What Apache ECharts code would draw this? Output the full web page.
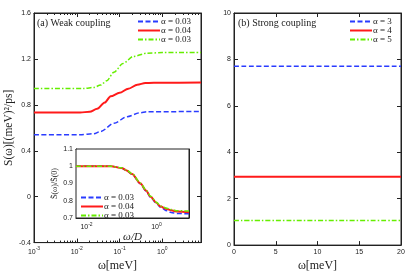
<!DOCTYPE html>
<html><head><meta charset="utf-8">
<script src="https://cdn.jsdelivr.net/npm/echarts@6/dist/echarts.min.js"></script>
<style>html,body{margin:0;padding:0;background:#fff}#c{width:415px;height:277px}</style>
</head><body><div id="c"></div>
<script>
// ---- data ----
const weakLabels = ['α = 0.03', 'α = 0.04', 'α = 0.03'];
const strongLabels = ['α = 3', 'α = 4', 'α = 5'];
const weakBlue = [[0.001,0.539],[0.012,0.539],[0.025,0.548],[0.036,0.568],[0.074,0.639],[0.15,0.697],[0.3,0.731],[0.44,0.74],[8,0.742]];
const weakRed = [[0.001,0.733],[0.012,0.733],[0.02,0.74],[0.03,0.765],[0.045,0.82],[0.062,0.875],[0.1,0.905],[0.16,0.94],[0.26,0.975],[0.4,0.99],[1,0.993],[8,0.994]];
const weakGreen = [[0.001,0.943],[0.015,0.943],[0.025,0.952],[0.036,0.972],[0.05,1.01],[0.074,1.084],[0.12,1.16],[0.21,1.222],[0.44,1.25],[1,1.255],[8,1.256]];
const insetBlue = [[0.005,1.0],[0.05,1.0],[0.1,0.99],[0.14,0.975],[0.2,0.953],[0.35,0.898],[0.5,0.857],[0.68,0.82],[1.0,0.785],[1.3,0.762],[2,0.742],[2.6,0.732],[4,0.726],[8.5,0.724]];
const insetRed = [[0.005,1.0],[0.05,1.0],[0.1,0.99],[0.14,0.976],[0.2,0.955],[0.35,0.9],[0.5,0.86],[0.68,0.823],[1.0,0.788],[1.3,0.766],[2,0.752],[2.6,0.745],[4,0.737],[8.5,0.733]];
const insetGreen = [[0.005,1.0],[0.05,1.0],[0.1,0.991],[0.14,0.978],[0.2,0.957],[0.35,0.902],[0.5,0.862],[0.68,0.826],[1.0,0.791],[1.3,0.77],[2,0.756],[2.6,0.749],[4,0.742],[8.5,0.74]];
const strongX = [0, 20];
const strongValues = [7.71, 2.94, 1.06];
const weakYTicks = {min: -0.4, max: 1.6, interval: 0.4};
const strongYTicks = {min: 0, max: 10, interval: 2};
const strongXTicks = {min: 0, max: 20, interval: 5};
const insetYTicks = {min: 0.7, max: 1.1, interval: 0.1};

const BLUE = '#2a3cff', RED = '#ff1a1a', GREEN = '#66ee00';
const SANS = 'Liberation Sans', SERIF = 'Liberation Serif';
const AX = '#222';

const names = {w1: weakLabels[0], w2: weakLabels[1], w3: weakLabels[2],
  i1: weakLabels[0], i2: weakLabels[1], i3: weakLabels[2],
  s1: strongLabels[0], s2: strongLabels[1], s3: strongLabels[2]};

function logFmt(onlyEven) {
  return function (v) {
    const l = Math.log10(v), e = Math.round(l);
    if (Math.abs(l - e) > 1e-6) return '';
    if (onlyEven && e % 2 !== 0) return '';
    return '{b|10}{s|' + e + '}';
  };
}
const logRich = {b: {fontSize: 7, fontFamily: SANS, color: '#222'}, s: {fontSize: 5, fontFamily: SANS, color: '#222', padding: [0, 0, 5, 0]}};

function baseAxis(extra) {
  return Object.assign({
    show: true,
    axisLine: {show: true, onZero: false, lineStyle: {color: AX, width: 1}},
    axisTick: {show: true, inside: true, length: 4, lineStyle: {color: AX}},
    minorTick: {show: false},
    splitLine: {show: false},
    axisLabel: {fontSize: 7, fontFamily: SANS, color: '#222', margin: 3},
    nameTextStyle: {fontFamily: SERIF, fontSize: 12, color: '#222'}
  }, extra);
}
function mirror(ax, pos) {
  const m = Object.assign({}, ax);
  m.position = pos;
  m.axisLabel = {show: false};
  m.name = '';
  return m;
}

const lx = baseAxis({type: 'log', gridIndex: 0, min: 0.001, max: 8, position: 'bottom',
  axisLabel: {fontSize: 7, margin: 4, formatter: logFmt(false), rich: logRich},
  minorTick: {show: true, splitNumber: 9, length: 2, lineStyle: {color: AX}},
  name: 'ω[meV]', nameLocation: 'middle', nameGap: 14});
const ly = baseAxis({type: 'value', gridIndex: 0, min: weakYTicks.min, max: weakYTicks.max, interval: weakYTicks.interval, position: 'left',
  name: 'S(ω)[(meV)²/ps]', nameLocation: 'middle', nameGap: 19, nameTextStyle: {fontFamily: SERIF, fontSize: 11.5, color: '#222'}});
const rx = baseAxis({type: 'value', gridIndex: 1, min: strongXTicks.min, max: strongXTicks.max, interval: strongXTicks.interval, position: 'bottom',
  name: 'ω[meV]', nameLocation: 'middle', nameGap: 14});
const ry = baseAxis({type: 'value', gridIndex: 1, min: strongYTicks.min, max: strongYTicks.max, interval: strongYTicks.interval, position: 'left'});
const ix = baseAxis({type: 'log', gridIndex: 2, min: 0.005, max: 8.5, position: 'bottom',
  axisLabel: {fontSize: 7, margin: 4, formatter: logFmt(true), rich: logRich},
  axisTick: {show: true, inside: true, length: 3, lineStyle: {color: AX}},
  name: 'ω/D', nameLocation: 'middle', nameGap: 9, nameTextStyle: {fontFamily: SERIF, fontSize: 11, fontStyle: 'italic', color: '#222'}});
const iy = baseAxis({type: 'value', gridIndex: 2, min: insetYTicks.min, max: insetYTicks.max, interval: insetYTicks.interval, position: 'left',
  axisTick: {show: true, inside: true, length: 3, lineStyle: {color: AX}},
  name: 'S\u0303(ω)/S\u0303(0)', nameLocation: 'middle', nameGap: 13, nameTextStyle: {fontFamily: SERIF, fontSize: 8, color: '#222'}});

const xAxes = [lx, mirror(lx, 'top'), rx, mirror(rx, 'top'), ix, mirror(ix, 'top')];
const yAxes = [ly, mirror(ly, 'right'), ry, mirror(ry, 'right'), iy, mirror(iy, 'right')];

function line(name, data, xi, yi, color, type, width, z) {
  return {name, type: 'line', data, xAxisIndex: xi, yAxisIndex: yi, symbol: 'none', showSymbol: false,
    smooth: 0.3, smoothMonotone: 'x', z: z || 2, lineStyle: {color, type, width}, itemStyle: {color}};
}
const DASH = [5, 2.5], DASHDOT = [5, 2, 1.5, 2];
// the red series of each panel is bound to the mirror (top/right) axes, which share the same scale
const series = [
  line('w1', weakBlue, 0, 0, BLUE, DASH, 1.5),
  line('w2', weakRed, 1, 1, RED, 'solid', 2),
  line('w3', weakGreen, 0, 0, GREEN, DASHDOT, 1.5),
  line('s1', strongX.map(x => [x, strongValues[0]]), 2, 2, BLUE, DASH, 1.5),
  line('s2', strongX.map(x => [x, strongValues[1]]), 3, 3, RED, 'solid', 2),
  line('s3', strongX.map(x => [x, strongValues[2]]), 2, 2, GREEN, DASHDOT, 1.5),
  line('i1', insetBlue, 4, 4, BLUE, DASH, 1.5, 10),
  line('i2', insetRed, 5, 5, RED, 'solid', 2, 10),
  line('i3', insetGreen, 4, 4, GREEN, DASHDOT, 1.5, 10)
];

function legend(data, left, top) {
  return {data, left, top, z: 30, orient: 'vertical', itemWidth: 22, itemHeight: 7, itemGap: 0, padding: 0, selectedMode: false,
    itemStyle: {opacity: 0},
    formatter: n => names[n], textStyle: {fontFamily: SERIF, fontSize: 9, color: '#222', padding: [0, 0, 0, -4]}};
}

const chart = echarts.init(document.getElementById('c'), null, {renderer: 'canvas'});
chart.setOption({
  animation: false,
  backgroundColor: '#fff',
  grid: [
    {left: 34, top: 13, width: 167, height: 234, show: true, borderColor: AX, borderWidth: 1},
    {left: 234, top: 13, width: 167, height: 234, show: true, borderColor: AX, borderWidth: 1},
    {left: 76, top: 149, width: 113, height: 69, show: true, backgroundColor: '#fff', borderColor: AX, borderWidth: 1, z: 5}
  ],
  title: [
    {text: '(a) Weak coupling', left: 37, top: 18, padding: 0, textStyle: {fontFamily: SERIF, fontSize: 10, fontWeight: 'normal', color: '#222'}},
    {text: '(b) Strong coupling', left: 238, top: 18, padding: 0, textStyle: {fontFamily: SERIF, fontSize: 10, fontWeight: 'normal', color: '#222'}}
  ],
  legend: [
    legend(['w1', 'w2', 'w3'], 137, 17),
    legend(['s1', 's2', 's3'], 349, 17),
    legend(['i1', 'i2', 'i3'], 80, 193)
  ],
  xAxis: xAxes,
  yAxis: yAxes,
  series
});
</script></body></html>
